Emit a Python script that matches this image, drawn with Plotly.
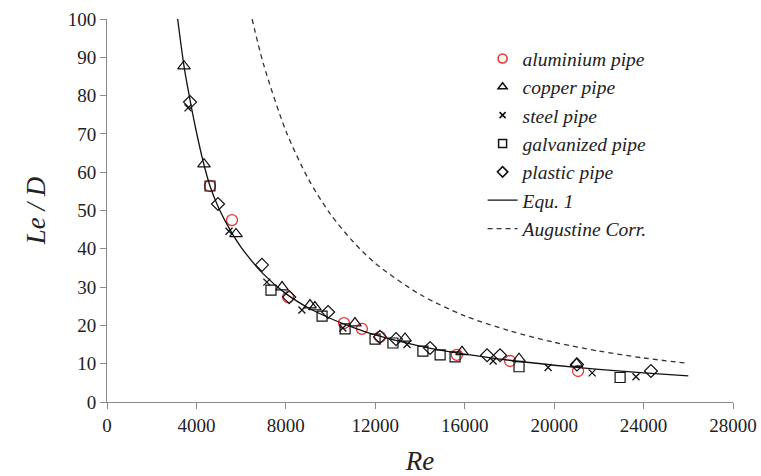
import plotly.graph_objects as go

# ---- data ----
al_re = [4607, 5591, 8100, 10600, 11400, 12210, 15650, 18030, 21070]
al_ld = [56.4, 47.5, 27.4, 20.6, 19.1, 17.0, 12.3, 10.7, 8.1]

cu_re = [3444, 4339, 5770, 7830, 9080, 9300, 11090, 13330, 15880, 18430, 21000]
cu_ld = [87.7, 62.1, 43.9, 30.0, 25.3, 24.8, 20.6, 16.6, 13.1, 11.3, 10.0]

st_re = [3623, 5457, 7150, 8720, 10550, 13420, 17270, 19730, 21700, 23660]
st_ld = [76.8, 44.6, 31.3, 24.0, 19.3, 15.0, 10.7, 9.0, 7.6, 6.6]

gv_re = [4607, 7335, 9620, 10650, 11990, 12790, 14130, 14900, 15570, 18430, 22950]
gv_ld = [56.4, 29.2, 22.4, 19.1, 16.4, 15.4, 13.3, 12.3, 11.8, 9.2, 6.4]

pl_re = [3713, 4965, 6930, 8150, 9890, 12210, 12930, 14450, 17000, 17580, 21020, 24330]
pl_ld = [78.3, 51.7, 35.8, 27.4, 23.5, 17.0, 16.4, 14.1, 12.2, 12.2, 9.8, 8.1]

eq_re = [3160, 3444, 3700, 4000, 4300, 4607, 5000, 5500, 6000, 7000, 8000, 9000,
         10000, 11000, 12000, 14000, 16000, 18000, 20000, 22000, 24000, 26000]
eq_ld = [100, 87.7, 79.3, 70.5, 62.8, 56.4, 50.6, 45.0, 40.4, 33.4, 28.3, 24.6,
         21.8, 19.5, 17.5, 14.6, 12.5, 10.9, 9.6, 8.5, 7.6, 6.8]

au_re = [6490, 7000, 8000, 9000, 10000, 11000, 12000, 14000, 16000, 18000,
         20000, 22000, 24000, 26000]
au_ld = [100, 88.2, 70.8, 58.3, 49.0, 41.9, 36.2, 28.1, 22.5, 18.6,
         15.6, 13.3, 11.5, 10.1]

x_ticks = [0, 4000, 8000, 12000, 16000, 20000, 24000, 28000]
y_ticks = [0, 10, 20, 30, 40, 50, 60, 70, 80, 90, 100]

FONT = "Liberation Serif"
RED = "rgb(232,52,48)"
BLK = "#111111"

fig = go.Figure()

def pts(x, y, name, symbol, color, size, lw=1.2, leg_size=8):
    # data markers
    fig.add_trace(go.Scatter(
        x=x, y=y, mode="markers", name=name, showlegend=False,
        marker=dict(symbol=symbol, size=size, color=color,
                    line=dict(color=color, width=lw)),
    ))
    # smaller legend symbol (as in the reference legend)
    fig.add_trace(go.Scatter(
        x=[None], y=[None], mode="markers", name=name,
        marker=dict(symbol=symbol, size=leg_size, color=color,
                    line=dict(color=color, width=lw + 0.3)),
    ))

pts(al_re, al_ld, "aluminium pipe", "circle-open", RED, 11, 1.3, 9)
pts(cu_re, cu_ld, "copper pipe", "triangle-up-open", BLK, 11, 1.2, 8)
pts(st_re, st_ld, "steel pipe", "x-thin-open", BLK, 7, 1.3, 6)
pts(gv_re, gv_ld, "galvanized pipe", "square-open", BLK, 10, 1.2, 8)
pts(pl_re, pl_ld, "plastic pipe", "diamond-open", BLK, 10, 1.2, 8)

fig.add_trace(go.Scatter(
    x=eq_re, y=eq_ld, mode="lines", name="Equ. 1",
    line=dict(color=BLK, width=1.3, shape="spline", smoothing=0.8),
))
fig.add_trace(go.Scatter(
    x=au_re, y=au_ld, mode="lines", name="Augustine Corr.",
    line=dict(color="#333333", width=1.3, dash="5px,4px", shape="spline", smoothing=0.8),
))

axis_common = dict(
    showgrid=False, zeroline=False, showline=True, linecolor="#8a8a8a", linewidth=1,
    ticks="outside", ticklen=6, tickcolor="#8a8a8a", tickwidth=1,
    tickfont=dict(family=FONT, size=19, color="#222222"),
    automargin=False,
)

fig.update_layout(
    width=761, height=476,
    margin=dict(l=107, r=28, t=19, b=74),
    paper_bgcolor="white", plot_bgcolor="white",
    font=dict(family=FONT, color="#222222"),
    xaxis=dict(range=[0, 28000], tickvals=x_ticks, ticktext=[str(v) for v in x_ticks],
               title=dict(text="<i>Re</i>", font=dict(family=FONT, size=27), standoff=17),
               **axis_common),
    yaxis=dict(range=[0, 100], tickvals=y_ticks, ticktext=[str(v) for v in y_ticks],
               title=dict(text="<i>Le / D</i>", font=dict(family=FONT, size=27), standoff=14),
               **axis_common),
    legend=dict(
        x=0.600, y=0.947, xanchor="left", yanchor="top",
        font=dict(family=FONT, size=19.5, color="#222222", style="italic"),
        bgcolor="rgba(0,0,0,0)", borderwidth=0, itemsizing="trace",
        tracegroupgap=0,
    ),
    showlegend=True,
)

fig.write_html("out.html")
